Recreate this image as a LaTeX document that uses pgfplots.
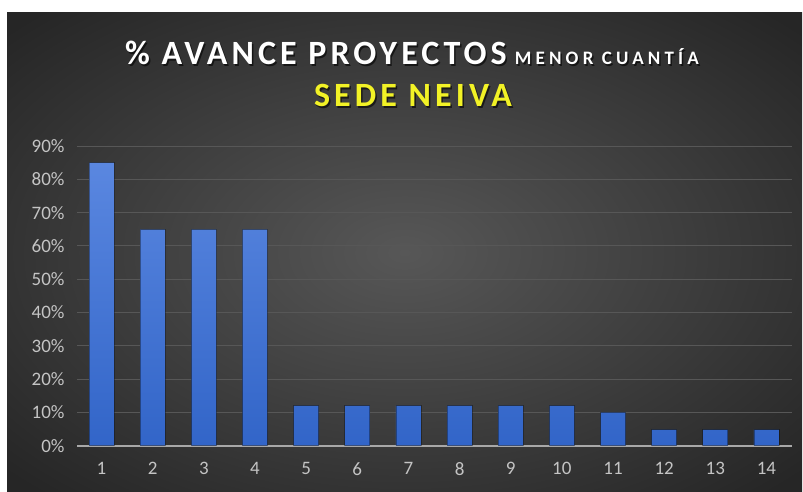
\documentclass[border=0pt]{standalone}
\usepackage{fontspec}
\setmainfont{Carlito}
\newfontfamily\titlefont[LetterSpace=12]{Carlito}
\newfontfamily\subfont[LetterSpace=22]{Carlito}
\usepackage{pgfplots}
\pgfplotsset{compat=1.18}
\definecolor{bgin}{HTML}{575757}
\definecolor{bgout}{HTML}{262626}
\definecolor{gridc}{HTML}{575757}
\definecolor{axisc}{HTML}{A8A8A8}
\definecolor{tickc}{HTML}{C4C4C4}
\definecolor{bartop}{HTML}{5A87E0}
\definecolor{barbot}{HTML}{3265C8}
\definecolor{titleyel}{HTML}{F2F226}
\pgfdeclareradialshading{bgshade}{\pgfpoint{0bp}{0bp}}{color(0bp)=(bgin); color(34bp)=(bgout); color(50bp)=(bgout)}

\newcommand{\titleline}{{\titlefont\bfseries\fontsize{34}{34}\selectfont \% AVANCE PROYECTOS}\hspace{8pt}{\subfont\bfseries\fontsize{19}{19}\selectfont MENOR CUANTÍA}}
\newcommand{\sedeline}{{\titlefont\bfseries\fontsize{34}{34}\selectfont SEDE NEIVA}}

\begin{document}
\begin{tikzpicture}
% page and dark panel
\fill[white] (0pt,0pt) rectangle (803pt,492pt);
\shade[shading=bgshade] (7pt,0pt) rectangle (802pt,479pt);

% titles (with a soft shadow)
\node[anchor=base, text=black, opacity=0.6] at (413.5pt,425.5pt) {\titleline};
\node[anchor=base, text=white] at (412pt,427pt) {\titleline};
\node[anchor=base, text=black, opacity=0.6] at (414.5pt,383.5pt) {\sedeline};
\node[anchor=base, text=titleyel] at (413pt,385pt) {\sedeline};

\begin{axis}[
  at={(77pt,46.3pt)}, anchor=south west,
  scale only axis,
  width=715pt, height=299.7pt,
  xmin=0.52, xmax=14.5,
  ymin=0, ymax=90,
  xtick={1,...,14},
  ytick={0,10,...,90},
  yticklabel={\pgfmathprintnumber{\tick}\%},
  /pgf/number format/assume math mode=true,
  tick style={draw=none},
  ymajorgrids=true,
  grid style={draw=gridc, line width=1pt},
  axis lines*=left,
  x axis line style={draw=axisc, line width=2pt},
  y axis line style={draw=none},
  ticklabel style={text=tickc, font=\fontsize{19}{19}\selectfont},
  yticklabel style={anchor=east, xshift=-9pt},
  xticklabel style={anchor=north, yshift=-13pt},
]
\addplot[ybar, bar width=25pt, top color=bartop, bottom color=barbot,
  draw=black, draw opacity=0.35, line width=0.8pt]
  coordinates {(1,85) (2,65) (3,65) (4,65) (5,12) (6,12) (7,12)
               (8,12) (9,12) (10,12) (11,10) (12,4.8) (13,4.8) (14,4.8)};
\end{axis}
\end{tikzpicture}
\end{document}
